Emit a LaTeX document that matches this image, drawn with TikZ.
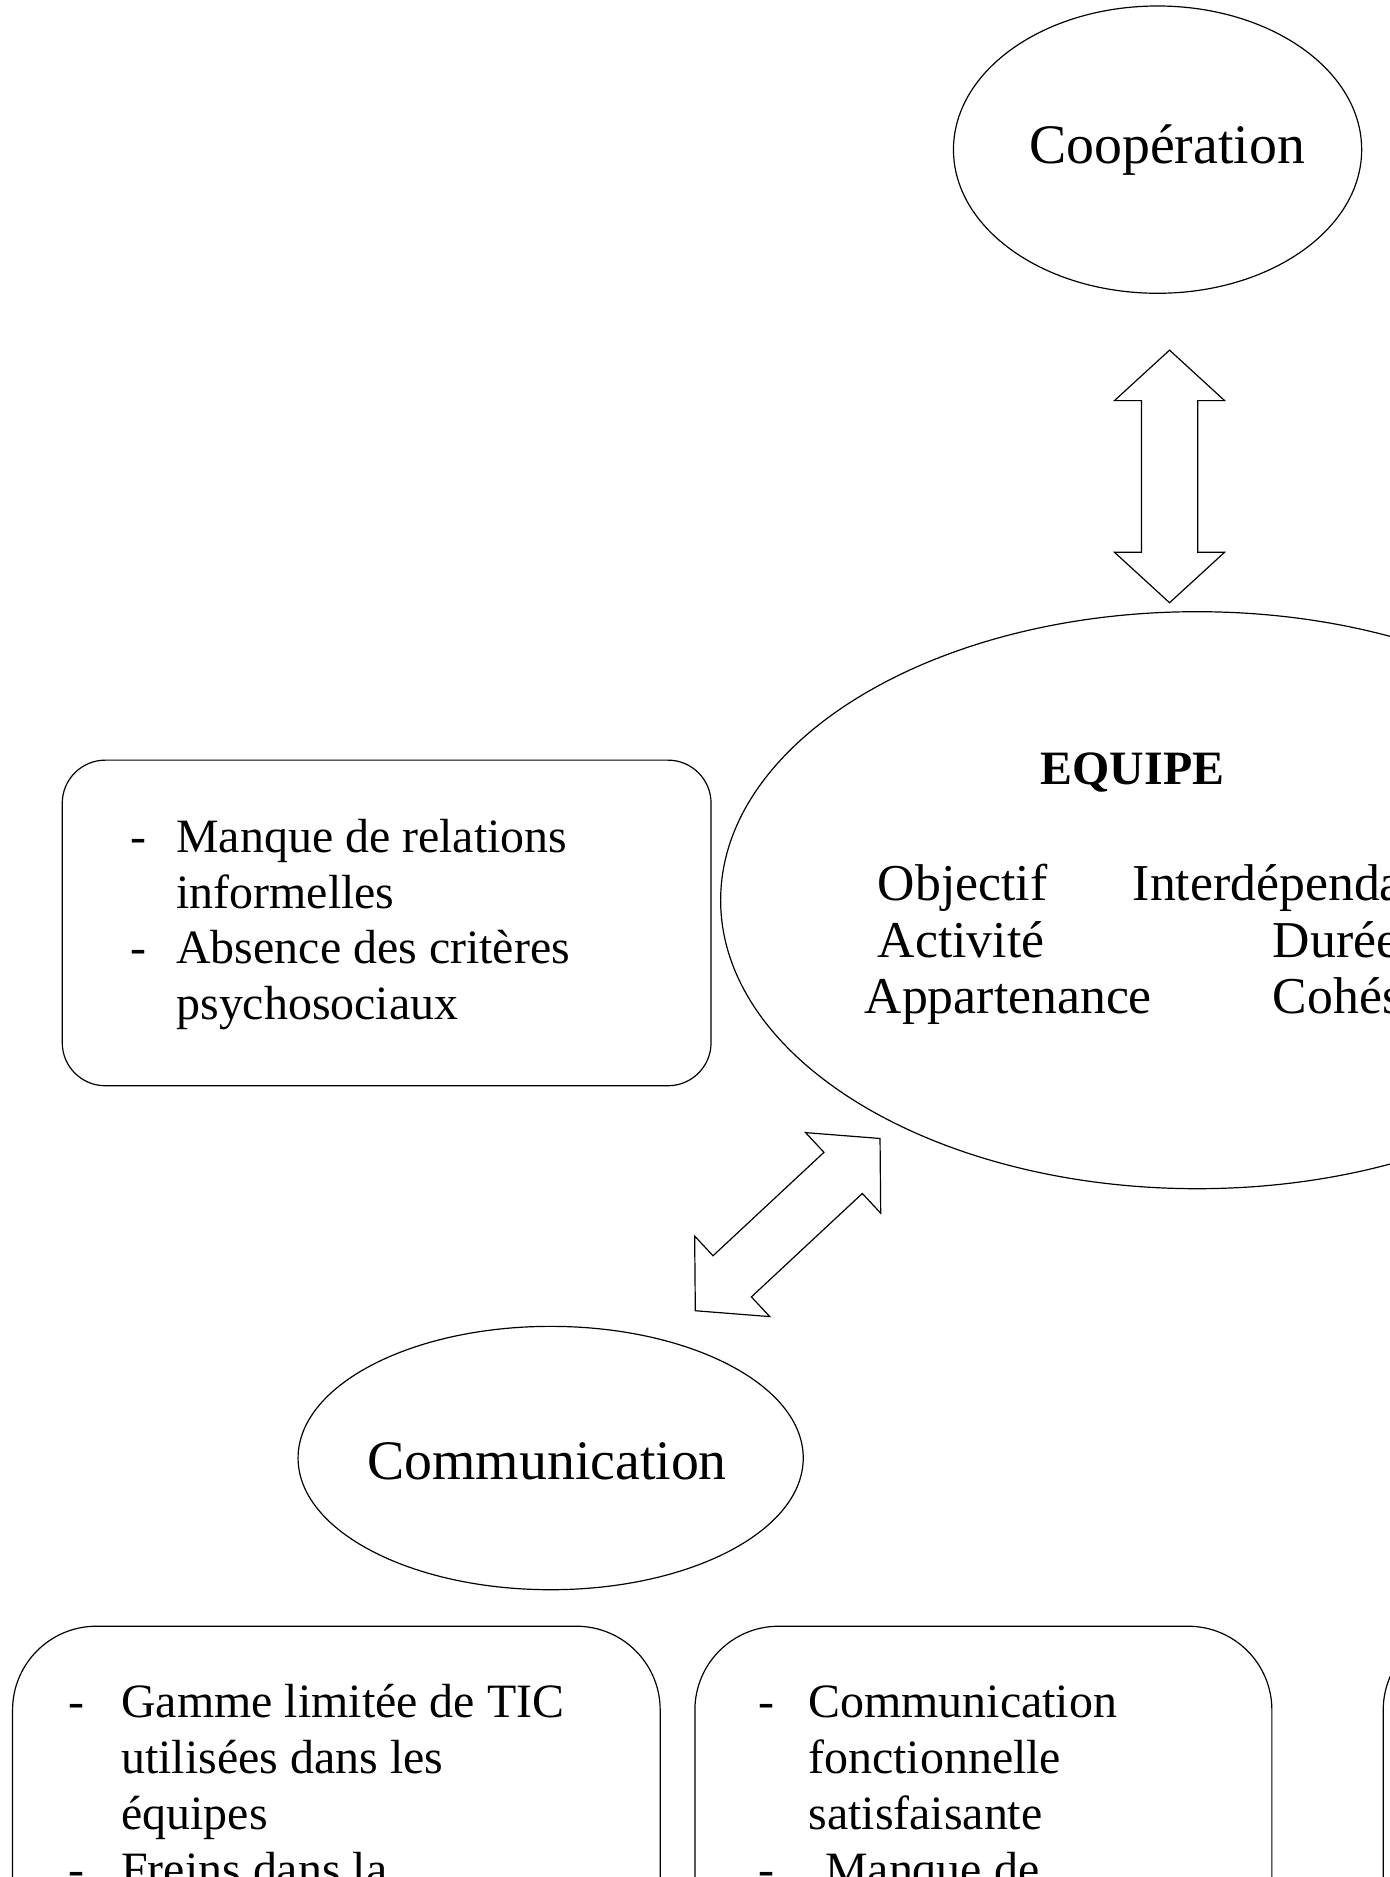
\documentclass[tikz,border=0pt]{standalone}
\usepackage{fontspec}
\setmainfont{Liberation Serif}
\usetikzlibrary{shapes.geometric,shapes.arrows}

\begin{document}
\begin{tikzpicture}[x=0.5pt, y=-0.5pt,
  every node/.style={inner sep=0pt},
  bulle/.style={draw, line width=0.5pt, ellipse},
  cadre/.style={draw, line width=0.5pt, rectangle},
  fleche/.style={draw, line width=0.5pt, double arrow, double arrow tip angle=95,
                 double arrow head extend=11.25pt, inner xsep=0pt, inner ysep=11.5pt,
                 minimum width=45.5pt, minimum height=105.5pt},
  grand/.style={font=\fontsize{23.3}{28}\selectfont},
  moyen/.style={font=\fontsize{21.6}{24}\selectfont, anchor=base west},
  liste/.style={font=\fontsize{20}{23.3}\selectfont, anchor=base west}]

\useasboundingbox (0,0) rectangle (1161,1568);
\clip (0,0) rectangle (1161,1568);

% ellipses
\node[bulle, minimum width=170.5pt, minimum height=120pt] (coop) at (967,125) {};
\node[bulle, minimum width=398pt, minimum height=241pt] (equipe) at (1000,752) {};
\node[bulle, minimum width=211pt, minimum height=110pt] (comm) at (460,1218) {};

\node[grand, anchor=base] (coopT) at (975,137) {Coopération};
\node[grand, anchor=base] (commT) at (457,1236) {Communication};

% contenu de l'equipe
\node[font=\bfseries\fontsize{20}{24}\selectfont, anchor=base west] (titre) at (869,655) {EQUIPE};
\node[moyen] (objectif) at (733,752) {Objectif};
\node[moyen] (interdep) at (946,752) {Interdépendance};
\node[moyen] (activite) at (733,800) {Activité};
\node[moyen] (duree) at (1063,800) {Durée};
\node[moyen] (appart) at (722,847) {Appartenance};
\node[moyen] (cohesion) at (1063,847) {Cohésion};

% doubles fleches
\node[fleche, rotate=90] (flecheHaut) at (977,398) {};
\node[fleche, rotate=43] (flecheBas) at (658,1023) {};

% cadres
\node[cadre, rounded corners=18pt, minimum width=271pt, minimum height=136pt] (freins) at (323,771) {};
\node[liste] (freinsT) at (109,712) {\begin{tabular}[t]{@{}p{19pt}@{}l@{}}
- & Manque de relations\\
  & informelles\\
- & Absence des critères\\
  & psychosociaux
\end{tabular}};

\node[cadre, rounded corners=35pt, minimum width=270.5pt, minimum height=230pt, anchor=north west] (boiteA) at (10,1358) {};
\node[cadre, rounded corners=35pt, minimum width=241pt, minimum height=230pt, anchor=north west] (boiteB) at (580,1358) {};
\node[cadre, rounded corners=35pt, minimum width=241pt, minimum height=230pt, anchor=north west] (boiteC) at (1155,1358) {};

\node[liste] (listeA) at (57,1435) {\begin{tabular}[t]{@{}p{22pt}@{}l@{}}
- & Gamme limitée de TIC\\
  & utilisées dans les\\
  & équipes\\
- & Freins dans la
\end{tabular}};
\node[liste] (listeB) at (633,1435) {\begin{tabular}[t]{@{}p{21pt}@{}l@{}}
- & Communication\\
  & fonctionnelle\\
  & satisfaisante\\
- & \hspace{7pt}Manque de
\end{tabular}};
\end{tikzpicture}
\end{document}
